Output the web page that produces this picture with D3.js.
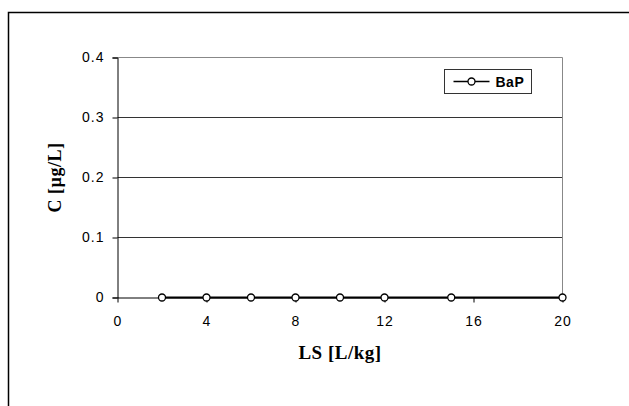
<!DOCTYPE html>
<html>
<head>
<meta charset="utf-8">
<script src="https://cdn.jsdelivr.net/npm/d3@7"></script>
<style>
  body { margin: 0; background: #fff; }
  svg { display: block; }
</style>
</head>
<body>
<script>
// data
const ls = [2, 4, 6, 8, 10, 12, 15, 20];
const bap = [0, 0, 0, 0, 0, 0, 0, 0];
const xTicks = [0, 4, 8, 12, 16, 20];
const yTicks = [0, 0.1, 0.2, 0.3, 0.4];
const seriesName = "BaP";

const width = 629;
const height = 406;

const svg = d3
  .select("body")
  .append("svg")
  .attr("width", width)
  .attr("height", height);

// outer frame (right and bottom edges fall outside the picture)
svg
  .append("rect")
  .attr("x", 8.5)
  .attr("y", 12.5)
  .attr("width", 700)
  .attr("height", 500)
  .attr("fill", "none")
  .attr("stroke", "#000")
  .attr("stroke-width", 1.5);

const xScale = d3.scaleLinear().domain([0, 20]).range([117.5, 562.5]);
const yScale = d3.scaleLinear().domain([0, 0.4]).range([297.5, 57.5]);

const sans = "'Liberation Sans', Arial, sans-serif";
const serif = "'Liberation Serif', 'Times New Roman', serif";

// gridlines
svg
  .append("g")
  .selectAll("line")
  .data(yTicks.filter((d) => d > 0 && d < 0.4))
  .join("line")
  .attr("x1", xScale(0))
  .attr("x2", xScale(20))
  .attr("y1", (d) => yScale(d))
  .attr("y2", (d) => yScale(d))
  .attr("stroke", "#333")
  .attr("stroke-width", 1);

// plot frame top + right
svg
  .append("path")
  .attr("d", `M${xScale(0)},${yScale(0.4)}H${xScale(20)}V${yScale(0)}`)
  .attr("fill", "none")
  .attr("stroke", "#888")
  .attr("stroke-width", 1);

// y axis
const yAxis = d3
  .axisLeft(yScale)
  .tickValues(yTicks)
  .tickSize(5)
  .tickPadding(8)
  .tickFormat((d) => (d === 0 ? "0" : d3.format(".1f")(d)));

svg
  .append("g")
  .attr("transform", `translate(${xScale(0)},0)`)
  .call(yAxis)
  .call((g) =>
    g
      .selectAll("text")
      .attr("font-family", sans)
      .attr("font-size", 14)
      .attr("letter-spacing", 1)
      .attr("fill", "#000")
  )
  .call((g) => g.selectAll("line, path").attr("stroke", "#000"));

// x axis
const xAxis = d3
  .axisBottom(xScale)
  .tickValues(xTicks)
  .tickSize(5)
  .tickSizeOuter(0)
  .tickPadding(14);

svg
  .append("g")
  .attr("transform", `translate(0,${yScale(0)})`)
  .call(xAxis)
  .call((g) =>
    g
      .selectAll("text")
      .attr("font-family", sans)
      .attr("font-size", 14)
      .attr("letter-spacing", 1)
      .attr("fill", "#000")
  )
  .call((g) => g.selectAll("line, path").attr("stroke", "#000"));

// series line + markers
const pts = ls.map((d, i) => [d, bap[i]]);
svg
  .append("path")
  .datum(pts)
  .attr("fill", "none")
  .attr("stroke", "#000")
  .attr("stroke-width", 2)
  .attr("d", d3.line().x((d) => xScale(d[0])).y((d) => yScale(d[1])));

svg
  .append("g")
  .selectAll("circle")
  .data(pts)
  .join("circle")
  .attr("cx", (d) => xScale(d[0]))
  .attr("cy", (d) => yScale(d[1]))
  .attr("r", 3.5)
  .attr("fill", "#fff")
  .attr("stroke", "#000")
  .attr("stroke-width", 1.3);

// axis titles
svg
  .append("text")
  .attr("x", (xScale(0) + xScale(20)) / 2)
  .attr("y", 359)
  .attr("text-anchor", "middle")
  .attr("font-family", serif)
  .attr("font-weight", "bold")
  .attr("font-size", 19)
  .attr("letter-spacing", 0.5)
  .text("LS [L/kg]");

svg
  .append("text")
  .attr("transform", `translate(61,${(yScale(0) + yScale(0.4)) / 2}) rotate(-90)`)
  .attr("text-anchor", "middle")
  .attr("font-family", serif)
  .attr("font-weight", "bold")
  .attr("font-size", 18)
  .attr("letter-spacing", 0.5)
  .text("C [µg/L]");

// legend
const legend = svg.append("g").attr("transform", "translate(444.5,69.5)");
legend
  .append("rect")
  .attr("width", 87)
  .attr("height", 24)
  .attr("fill", "#fff")
  .attr("stroke", "#333");
legend
  .append("line")
  .attr("x1", 9)
  .attr("x2", 45)
  .attr("y1", 12)
  .attr("y2", 12)
  .attr("stroke", "#000")
  .attr("stroke-width", 1.3);
legend
  .append("circle")
  .attr("cx", 27)
  .attr("cy", 12)
  .attr("r", 3.5)
  .attr("fill", "#fff")
  .attr("stroke", "#000")
  .attr("stroke-width", 1.3);
legend
  .append("text")
  .attr("x", 51)
  .attr("y", 17)
  .attr("font-family", sans)
  .attr("font-weight", "bold")
  .attr("font-size", 14)
  .attr("letter-spacing", 0.5)
  .text(seriesName);
</script>
</body>
</html>
